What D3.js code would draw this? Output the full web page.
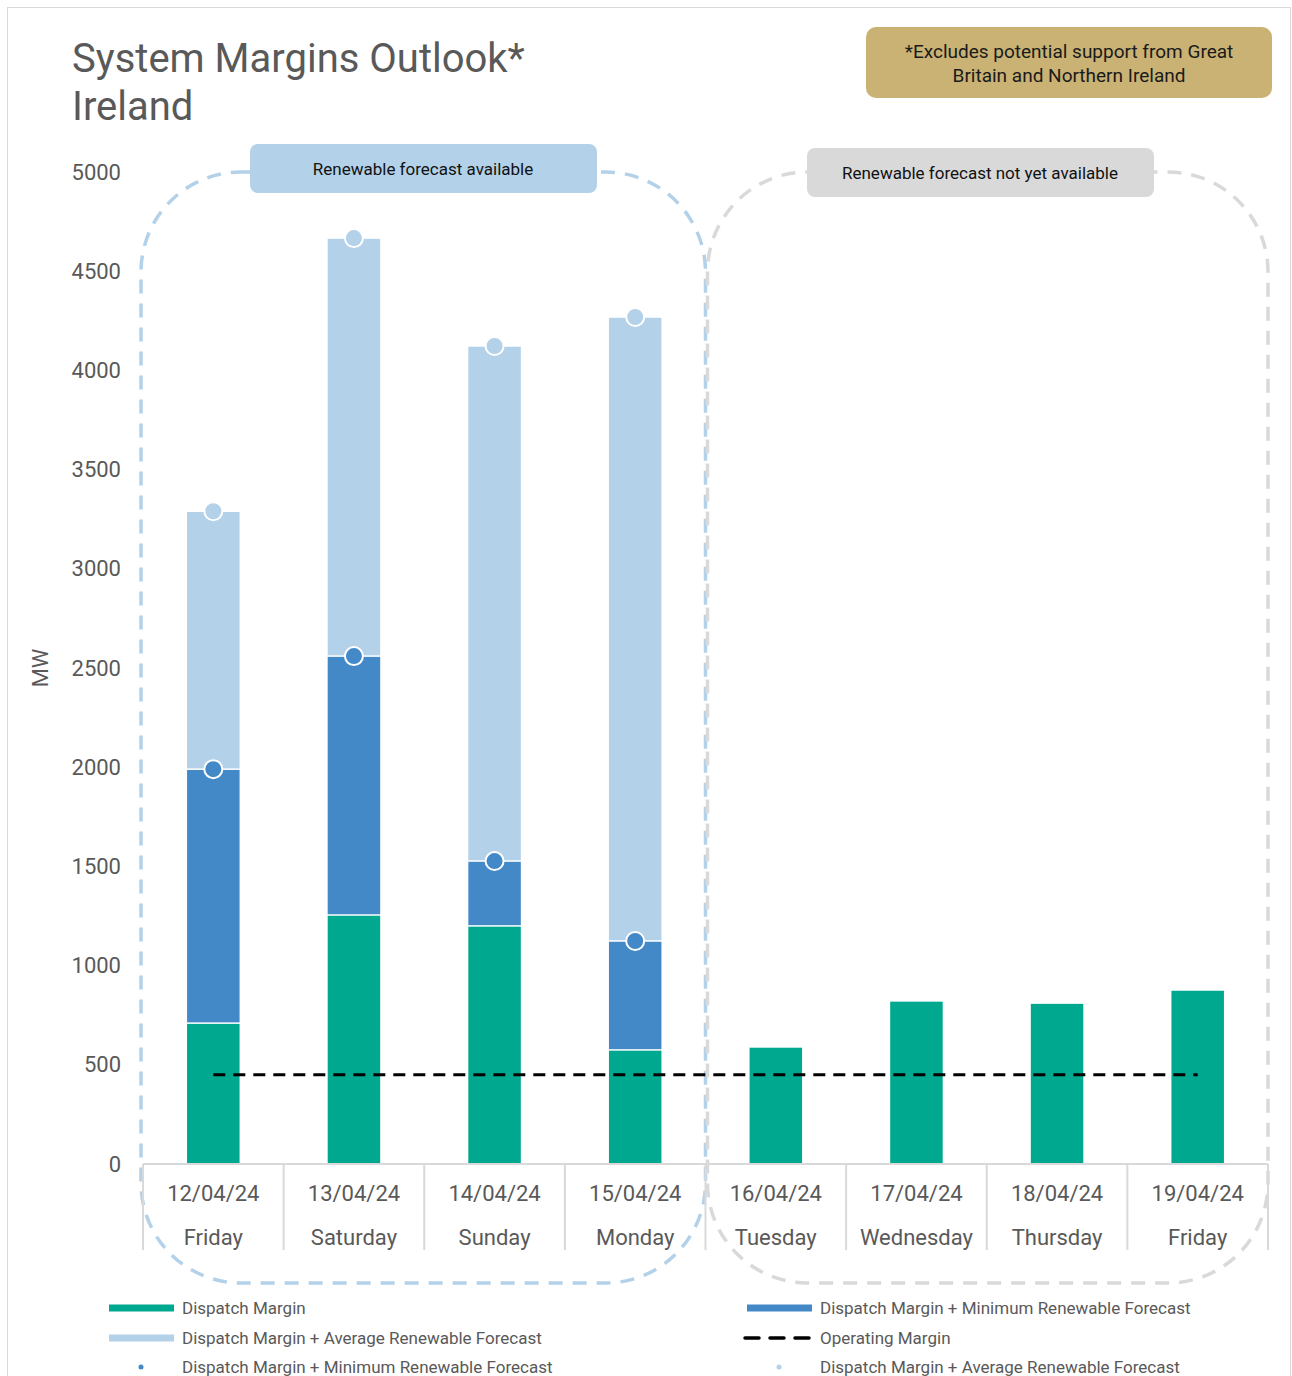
<!DOCTYPE html>
<html>
<head>
<meta charset="utf-8">
<script src="https://cdn.jsdelivr.net/npm/d3@7"></script>
<style>
  body { margin: 0; background: #fff; }
  svg { display: block; }
  svg text { font-family: Roboto, "Noto Sans", sans-serif; }
</style>
</head>
<body>
<div id="chart"></div>
<script>
// data (MW)
var dates = ["12/04/24", "13/04/24", "14/04/24", "15/04/24", "16/04/24", "17/04/24", "18/04/24", "19/04/24"];
var days = ["Friday", "Saturday", "Sunday", "Monday", "Tuesday", "Wednesday", "Thursday", "Friday"];
var dispatchMargin = [710, 1255, 1200, 575, 590, 822, 811, 877];
var dmMinRenewable = [1990, 2560, 1527, 1124, null, null, null, null];
var dmAvgRenewable = [3290, 4667, 4123, 4269, null, null, null, null];
var operatingMargin = [450, 450, 450, 450, 450, 450, 450, 450];
var yTicks = [0, 500, 1000, 1500, 2000, 2500, 3000, 3500, 4000, 4500, 5000];

var GREEN = "#00a88f", DARK = "#4389c8", LIGHT = "#b3d1e9", GREY_TXT = "#595959";

var svg = d3.select("#chart").append("svg")
  .attr("width", 1292)
  .attr("height", 1376);

// outer frame
svg.append("rect")
  .attr("x", 7.5).attr("y", 7.5)
  .attr("width", 1283).attr("height", 1380)
  .attr("fill", "none").attr("stroke", "#d9d9d9").attr("stroke-width", 1);

var margin = {left: 143, right: 24, top: 172, bottom: 212};
var width = 1292 - margin.left - margin.right;
var height = 1376 - margin.top - margin.bottom;

var x = d3.scaleBand().domain(d3.range(dates.length)).range([0, width]).paddingInner(0).paddingOuter(0);
var y = d3.scaleLinear().domain([0, 5000]).range([height, 0]);

var g = svg.append("g").attr("transform", "translate(" + margin.left + "," + margin.top + ")");

// title
svg.append("text").attr("x", 72).attr("y", 72)
  .attr("font-size", 40).attr("fill", GREY_TXT)
  .text("System Margins Outlook*");
svg.append("text").attr("x", 72).attr("y", 120)
  .attr("font-size", 40).attr("fill", GREY_TXT)
  .text("Ireland");

// note box
svg.append("rect").attr("x", 866).attr("y", 27).attr("width", 406).attr("height", 71)
  .attr("rx", 10).attr("fill", "#c9b273");
svg.append("text").attr("x", 1069).attr("y", 58).attr("text-anchor", "middle")
  .attr("font-size", 19).attr("fill", "#1a1a1a")
  .text("*Excludes potential support from Great");
svg.append("text").attr("x", 1069).attr("y", 82).attr("text-anchor", "middle")
  .attr("font-size", 19).attr("fill", "#1a1a1a")
  .text("Britain and Northern Ireland");

// y axis (labels only)
var yAxis = g.append("g")
  .call(d3.axisLeft(y).tickValues(yTicks).tickFormat(d3.format("d")).tickSize(0).tickPadding(22));
yAxis.select(".domain").remove();
yAxis.selectAll("text")
  .attr("font-size", 22).attr("fill", GREY_TXT)
  .style("font-family", "Roboto, 'Noto Sans', sans-serif");

svg.append("text")
  .attr("transform", "translate(48," + (margin.top + y(2500)) + ") rotate(-90)")
  .attr("text-anchor", "middle").attr("font-size", 22).attr("fill", GREY_TXT)
  .text("MW");

// dashed group outlines
var split = x(4);
g.append("rect")
  .attr("x", -2).attr("y", 0).attr("width", split + 2).attr("height", 1111)
  .attr("rx", 100).attr("ry", 100)
  .attr("fill", "none").attr("stroke", LIGHT).attr("stroke-width", 3.5)
  .attr("stroke-dasharray", "14,10");
g.append("rect")
  .attr("x", split + 2).attr("y", 0).attr("width", width - split - 2).attr("height", 1111)
  .attr("rx", 100).attr("ry", 100)
  .attr("fill", "none").attr("stroke", "#d9d9d9").attr("stroke-width", 3.5)
  .attr("stroke-dasharray", "14,10");

// group label boxes
svg.append("rect").attr("x", 250).attr("y", 144).attr("width", 347).attr("height", 49)
  .attr("rx", 8).attr("fill", LIGHT);
svg.append("text").attr("x", 423).attr("y", 175).attr("text-anchor", "middle")
  .attr("font-size", 17).attr("fill", "#111").text("Renewable forecast available");
svg.append("rect").attr("x", 807).attr("y", 148).attr("width", 347).attr("height", 49)
  .attr("rx", 8).attr("fill", "#d9d9d9");
svg.append("text").attr("x", 980).attr("y", 179).attr("text-anchor", "middle")
  .attr("font-size", 17).attr("fill", "#111").text("Renewable forecast not yet available");

// bars
var barW = 54;
function bx(i) { return x(i) + x.bandwidth() / 2 - barW / 2; }

var idx = d3.range(dates.length);
g.selectAll(".bar-avg").data(idx.filter(function(i) { return dmAvgRenewable[i] != null; }))
  .enter().append("rect")
  .attr("x", bx).attr("width", barW)
  .attr("y", function(i) { return y(dmAvgRenewable[i]); })
  .attr("height", function(i) { return y(0) - y(dmAvgRenewable[i]); })
  .attr("fill", LIGHT).attr("stroke", "#fff").attr("stroke-width", 1.5);
g.selectAll(".bar-min").data(idx.filter(function(i) { return dmMinRenewable[i] != null; }))
  .enter().append("rect")
  .attr("x", bx).attr("width", barW)
  .attr("y", function(i) { return y(dmMinRenewable[i]); })
  .attr("height", function(i) { return y(0) - y(dmMinRenewable[i]); })
  .attr("fill", DARK).attr("stroke", "#fff").attr("stroke-width", 1.5);
g.selectAll(".bar-dm").data(idx)
  .enter().append("rect")
  .attr("x", bx).attr("width", barW)
  .attr("y", function(i) { return y(dispatchMargin[i]); })
  .attr("height", function(i) { return y(0) - y(dispatchMargin[i]); })
  .attr("fill", GREEN).attr("stroke", "#fff").attr("stroke-width", 1.5);

// operating margin line
var line = d3.line()
  .x(function(d, i) { return x(i) + x.bandwidth() / 2; })
  .y(function(d) { return y(d); });
g.append("path").datum(operatingMargin)
  .attr("d", line).attr("fill", "none")
  .attr("stroke", "#000").attr("stroke-width", 3)
  .attr("stroke-dasharray", "12,8");

// markers
var cx = function(i) { return x(i) + x.bandwidth() / 2; };
g.selectAll(".dot-avg").data(idx.filter(function(i) { return dmAvgRenewable[i] != null; }))
  .enter().append("circle")
  .attr("cx", cx).attr("cy", function(i) { return y(dmAvgRenewable[i]); })
  .attr("r", 9).attr("fill", LIGHT).attr("stroke", "#fff").attr("stroke-width", 2);
g.selectAll(".dot-min").data(idx.filter(function(i) { return dmMinRenewable[i] != null; }))
  .enter().append("circle")
  .attr("cx", cx).attr("cy", function(i) { return y(dmMinRenewable[i]); })
  .attr("r", 9).attr("fill", DARK).attr("stroke", "#fff").attr("stroke-width", 2);

// x axis
g.append("line").attr("x1", 0).attr("x2", width).attr("y1", height).attr("y2", height)
  .attr("stroke", "#d9d9d9").attr("stroke-width", 2);
g.selectAll(".xdiv").data(d3.range(dates.length + 1))
  .enter().append("line")
  .attr("x1", function(i) { return i === dates.length ? width : x(i); })
  .attr("x2", function(i) { return i === dates.length ? width : x(i); })
  .attr("y1", height).attr("y2", height + 86)
  .attr("stroke", "#d9d9d9").attr("stroke-width", 2);
g.selectAll(".xdate").data(dates)
  .enter().append("text")
  .attr("x", function(d, i) { return cx(i); }).attr("y", height + 37)
  .attr("text-anchor", "middle").attr("font-size", 22).attr("fill", GREY_TXT)
  .text(function(d) { return d; });
g.selectAll(".xday").data(days)
  .enter().append("text")
  .attr("x", function(d, i) { return cx(i); }).attr("y", height + 81)
  .attr("text-anchor", "middle").attr("font-size", 22).attr("fill", GREY_TXT)
  .text(function(d) { return d; });

// legend
var legend = [
  {x: 109, y: 1308, type: "bar", color: GREEN, label: "Dispatch Margin"},
  {x: 747, y: 1308, type: "bar", color: DARK, label: "Dispatch Margin + Minimum Renewable Forecast"},
  {x: 109, y: 1338, type: "bar", color: LIGHT, label: "Dispatch Margin + Average Renewable Forecast"},
  {x: 747, y: 1338, type: "dash", color: "#000", label: "Operating Margin"},
  {x: 109, y: 1367, type: "dot", color: DARK, label: "Dispatch Margin + Minimum Renewable Forecast"},
  {x: 747, y: 1367, type: "dot", color: LIGHT, label: "Dispatch Margin + Average Renewable Forecast"}
];
var lg = svg.selectAll(".legend").data(legend).enter().append("g");
lg.each(function(d) {
  var s = d3.select(this);
  if (d.type === "bar") {
    s.append("line").attr("x1", d.x).attr("x2", d.x + 65).attr("y1", d.y).attr("y2", d.y)
      .attr("stroke", d.color).attr("stroke-width", 7);
  } else if (d.type === "dash") {
    s.append("line").attr("x1", d.x - 2).attr("x2", d.x + 66).attr("y1", d.y).attr("y2", d.y)
      .attr("stroke", d.color).attr("stroke-width", 3.5).attr("stroke-dasharray", "14,11")
      .attr("stroke-linecap", "round");
  } else {
    s.append("circle").attr("cx", d.x + 32).attr("cy", d.y).attr("r", 2.5).attr("fill", d.color);
  }
  s.append("text").attr("x", d.x + 73).attr("y", d.y + 6)
    .attr("font-size", 17).attr("fill", GREY_TXT).text(d.label);
});
</script>
</body>
</html>
